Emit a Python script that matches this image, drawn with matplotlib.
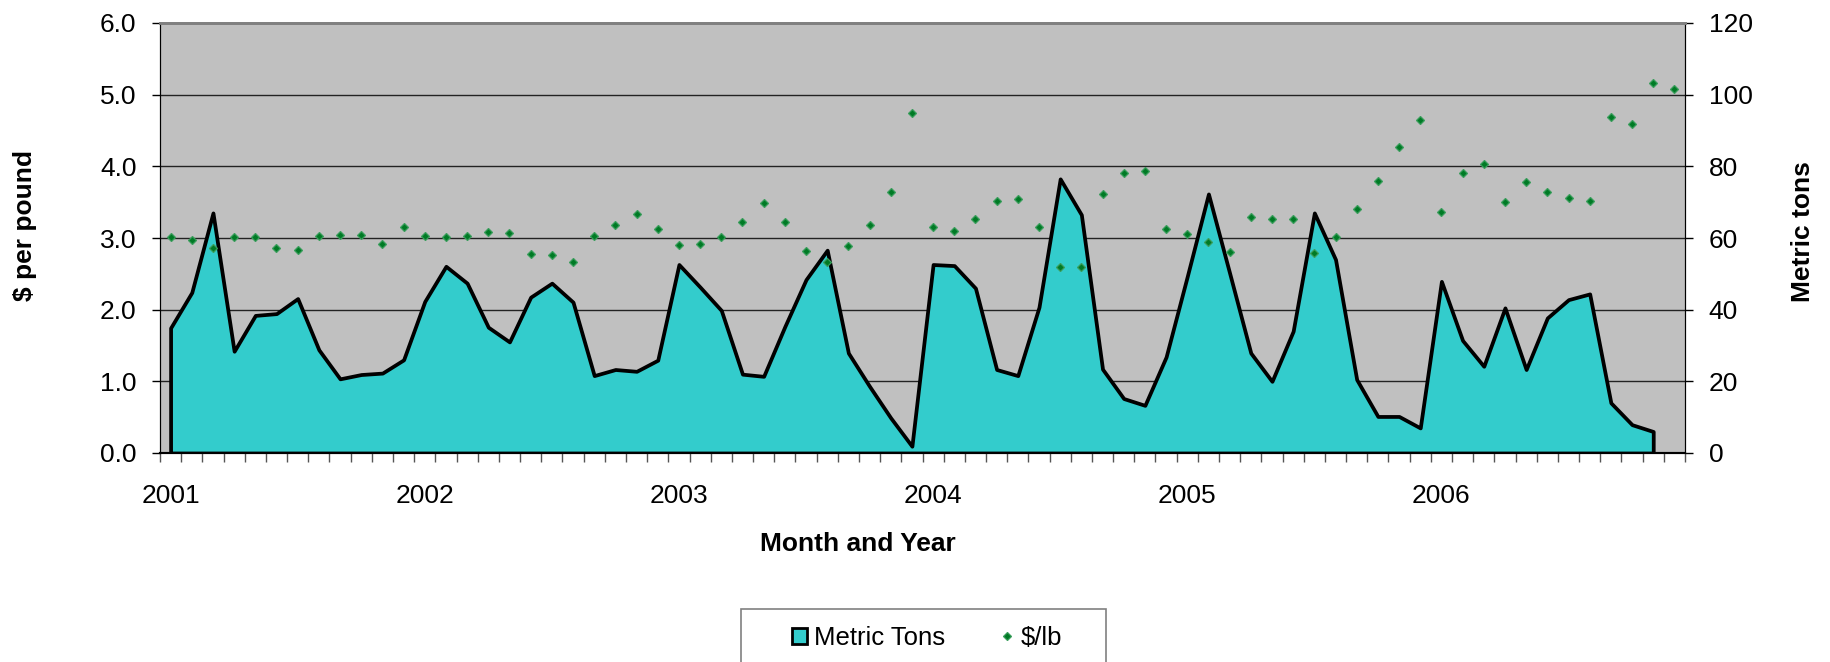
import numpy as np
import matplotlib
matplotlib.use('Agg')
import matplotlib.pyplot as plt
from matplotlib.patches import Patch, Rectangle
from matplotlib.lines import Line2D
from matplotlib.ticker import FixedLocator, FormatStrFormatter

plt.rcParams['font.family'] = ['Liberation Sans', 'DejaVu Sans']

# monthly data, Jan 2001 - Dec 2006
year_labels = ['2001', '2002', '2003', '2004', '2005', '2006']

metric_tons = [
    34.9, 44.8, 67.0, 28.4, 38.4, 38.9, 43.1, 28.8, 20.7, 21.9, 22.3, 26.0,
    42.3, 52.1, 47.4, 35.1, 31.0, 43.5, 47.4, 42.1, 21.6, 23.3, 22.8, 25.9,
    52.6, 46.3, 39.8, 22.0, 21.4, 35.3, 48.4, 56.6, 27.9, 18.6, 9.8, 1.9,
    52.6, 52.3, 46.0, 23.3, 21.6, 40.7, 76.5, 66.5, 23.4, 15.2, 13.3, 26.8,
    49.3, 72.3, 50.2, 27.9, 20.0, 34.0, 67.0, 54.0, 20.5, 10.2, 10.2, 7.0,
    47.9, 31.4, 24.2, 40.5, 23.3, 37.7, 42.8, 44.4, 14.0, 7.9, 6.0,
]

price_per_lb = [
    3.01, 2.97, 2.86, 3.01, 3.01, 2.86, 2.83, 3.03, 3.04, 3.04, 2.91, 3.16,
    3.03, 3.02, 3.03, 3.09, 3.07, 2.77, 2.76, 2.67, 3.03, 3.18, 3.33, 3.13,
    2.90, 2.92, 3.02, 3.22, 3.49, 3.22, 2.82, 2.67, 2.89, 3.18, 3.64, 4.74,
    3.15, 3.10, 3.27, 3.52, 3.54, 3.16, 2.60, 2.60, 3.61, 3.91, 3.94, 3.12,
    3.05, 2.94, 2.80, 3.30, 3.26, 3.27, 2.79, 3.01, 3.41, 3.79, 4.27, 4.65,
    3.36, 3.91, 4.03, 3.50, 3.78, 3.64, 3.56, 3.52, 4.69, 4.59, 5.16, 5.08,
]

n_months = len(price_per_lb)
x_price = np.arange(n_months)
x_tons = np.arange(len(metric_tons))

area_color = '#33CCCC'
dot_face = '#007A25'
dot_edge = '#3A9E5C'
fs = 19

fig = plt.figure(figsize=(18.3, 6.62), dpi=100)
ax1 = fig.add_axes([160 / 1830, 1 - 453 / 662, 1525 / 1830, 430 / 662])
ax2 = ax1.twinx()

# area (right axis) sits below, price dots (left axis) on top
ax1.set_zorder(ax2.get_zorder() + 1)
ax1.patch.set_visible(False)
ax2.patch.set_visible(True)
ax2.set_facecolor('#C0C0C0')

ax2.fill_between(x_tons, metric_tons, 0, facecolor=area_color,
                 edgecolor='black', linewidth=2.7, zorder=3)
ax2.set_ylim(0, 120)
ax2.set_yticks(np.arange(0, 121, 20))
ax2.yaxis.grid(True, color='#222222', linewidth=1.0)
ax2.set_axisbelow(True)

ax1.plot(x_price, price_per_lb, linestyle='none', marker='D', markersize=3.8,
         markerfacecolor=dot_face, markeredgecolor=dot_edge, markeredgewidth=0.9)
ax1.set_ylim(0, 6)
ax1.set_yticks(np.arange(0, 6.1, 1))
ax1.yaxis.set_major_formatter(FormatStrFormatter('%.1f'))

ax1.set_xlim(-0.5, n_months - 0.5)
ax1.xaxis.set_major_locator(FixedLocator(np.arange(0, n_months, 12)))
ax1.set_xticklabels(year_labels)
ax1.xaxis.set_minor_locator(FixedLocator(np.arange(-0.5, n_months, 1)))
ax1.tick_params(axis='x', which='major', length=0, pad=22, labelsize=fs)
ax1.tick_params(axis='x', which='minor', length=6.5, width=1, color='#555555',
                direction='out')
ax1.tick_params(axis='y', length=6, width=1, pad=11, labelsize=fs, direction='out')
ax2.tick_params(axis='y', length=6, width=1, pad=11, labelsize=fs, direction='out')

for ax in (ax1, ax2):
    ax.spines['top'].set_color('#808080')
    ax.spines['top'].set_linewidth(2)
    ax.spines['left'].set_color('black')
    ax.spines['right'].set_color('black')
    ax.spines['bottom'].set_color('black')
    ax.spines['bottom'].set_linewidth(1.5)

fig.text(25 / 1830, 1 - 226 / 662, '$ per pound', fontsize=fs, fontweight='bold',
         rotation=90, ha='center', va='center')
fig.text(1803 / 1830, 1 - 232 / 662, 'Metric tons', fontsize=fs, fontweight='bold',
         rotation=90, ha='center', va='center')
fig.text(858 / 1830, 1 - 544 / 662, 'Month and Year', fontsize=fs,
         fontweight='bold', ha='center', va='center')

# legend box, cut by the bottom edge of the figure
fig.patches.append(Rectangle((741 / 1830, -0.1), 365 / 1830, 0.1 + 53 / 662,
                             transform=fig.transFigure, fill=False,
                             edgecolor='#808080', linewidth=1.2))
handles = [
    Patch(facecolor=area_color, edgecolor='black', linewidth=2),
    Line2D([], [], linestyle='none', marker='D', markersize=3.8,
           markerfacecolor=dot_face, markeredgecolor=dot_edge, markeredgewidth=0.9),
]
fig.legend(handles, ['Metric Tons', '$/lb'], loc='center',
           bbox_to_anchor=(927 / 1830, 1 - 638 / 662), ncol=2, frameon=False,
           fontsize=18.5, handlelength=0.6, handleheight=0.6,
           handletextpad=0.25, columnspacing=2.1)

fig.savefig('out.png', dpi=100)
